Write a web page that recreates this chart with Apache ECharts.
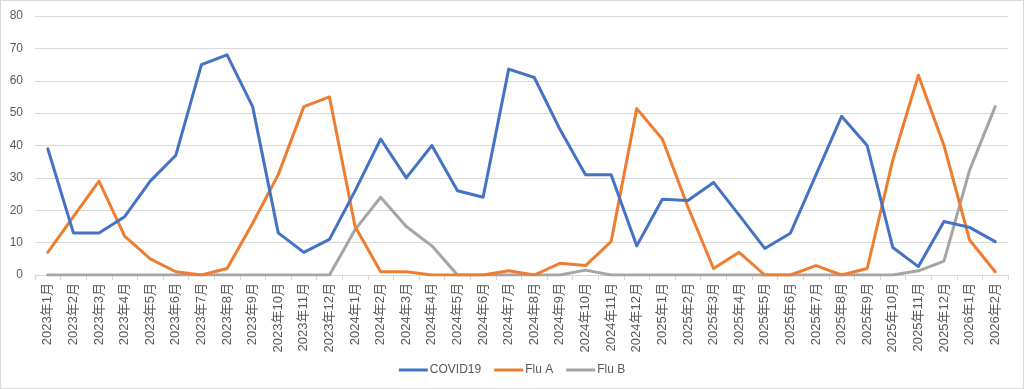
<!DOCTYPE html>
<html><head><meta charset="utf-8">
<script src="https://cdn.jsdelivr.net/npm/echarts@6/dist/echarts.min.js"></script>
<style>html,body{margin:0;padding:0;background:#fff}#c{width:1022px;height:387px;border:1px solid #d9d9d9}</style>
</head><body><div id="c"></div>
<script>
const categories = ["2023年1月","2023年2月","2023年3月","2023年4月","2023年5月","2023年6月","2023年7月","2023年8月","2023年9月","2023年10月","2023年11月","2023年12月",
"2024年1月","2024年2月","2024年3月","2024年4月","2024年5月","2024年6月","2024年7月","2024年8月","2024年9月","2024年10月","2024年11月","2024年12月",
"2025年1月","2025年2月","2025年3月","2025年4月","2025年5月","2025年6月","2025年7月","2025年8月","2025年9月","2025年10月","2025年11月","2025年12月",
"2026年1月","2026年2月"];
const covid = [39,13,13,18,29,37,65,68,52,13,7,11, 26,42,30,40,26,24,63.6,61,45,31,31,9, 23.4,23,28.6,18.5,8.2,12.9,30.9,49,40,8.5,2.6,16.5, 14.7,10.3];
const fluA = [7,18,29,12,5,1,0,2,16,31,52,55, 15,1,1,0,0,0,1.3,0,3.6,2.9,10.3,51.4, 42,21,2,7,0,0,2.9,0,2,35.5,61.7,40, 10.8,1];
const fluB = [0,0,0,0,0,0,0,0,0,0,0,0, 14,24,15,9,0,0,0,0,0,1.5,0,0, 0,0,0,0,0,0,0,0,0,0,1.3,4.3, 32.4,52];
const seriesNames = ["COVID19","Flu A","Flu B"];
const colors = ["#4472C4","#ED7D31","#A5A5A5"];
const font = "'Liberation Sans', 'Noto Sans CJK JP', sans-serif";
const chart = echarts.init(document.getElementById('c'), null, {renderer:'canvas'});
const mk = (name, data, i) => ({name, type:'line', data, symbol:'none', smooth:false,
  lineStyle:{width:3, color:colors[i], cap:'round', join:'round'}, itemStyle:{color:colors[i]}, z: 10 - i});
chart.setOption({
  animation:false,
  textStyle:{fontFamily:font},
  grid:{left:34, right:15, top:15, bottom:113, containLabel:false},
  legend:{top:358, left:'center', itemWidth:29, itemHeight:3, itemGap:13, icon:'rect',
    textStyle:{color:'#595959', fontSize:12, fontFamily:font, padding:[0,0,0,-3]},
    data:seriesNames},
  xAxis:{type:'category', data:categories, boundaryGap:true,
    axisLine:{lineStyle:{color:'#d9d9d9', width:1}},
    axisTick:{show:true, alignWithLabel:false, length:5, lineStyle:{color:'#d9d9d9'}},
    axisLabel:{rotate:90, interval:0, color:'#595959', fontSize:13, fontFamily:font, margin:8}},
  yAxis:{type:'value', min:0, max:80, interval:10,
    axisLine:{show:false}, axisTick:{show:false},
    axisLabel:{color:'#595959', fontSize:12, fontFamily:font, margin:12},
    splitLine:{lineStyle:{color:'#d9d9d9', width:1}}},
  series:[mk(seriesNames[0], covid, 0), mk(seriesNames[1], fluA, 1), mk(seriesNames[2], fluB, 2)]
});
</script></body></html>
